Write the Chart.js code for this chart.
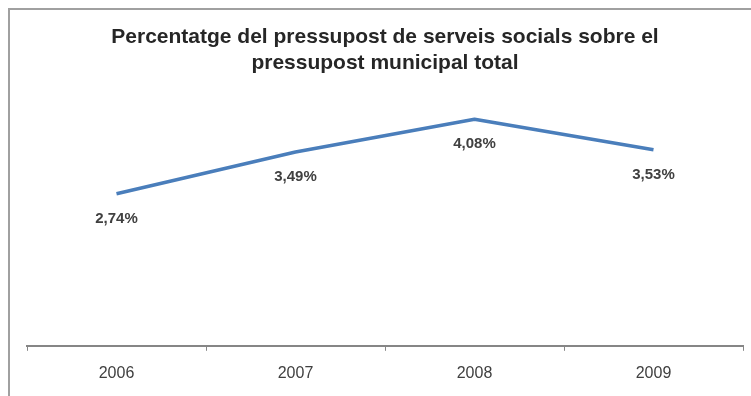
<!DOCTYPE html>
<html>
<head>
<meta charset="utf-8">
<script src="https://cdn.jsdelivr.net/npm/chart.js@4.4.0/dist/chart.umd.min.js"></script>
<style>
    body { margin: 0; background: #fff; }
    canvas { display: block; }
</style>
</head>
<body>
<canvas id="chart" width="751" height="396"></canvas>
<script>
const years = ['2006', '2007', '2008', '2009'];
const percentages = [2.74, 3.49, 4.08, 3.53];
const titleLines = ['Percentatge del pressupost de serveis socials sobre el', 'pressupost municipal total'];

function formatPct(v) {
    return v.toFixed(2).replace('.', ',') + '%';
}

// grey frame round the chart (only top and left edges show in the picture)
const framePlugin = {
    id: 'frame',
    beforeDraw(chart) {
        const ctx = chart.ctx;
        ctx.save();
        ctx.strokeStyle = '#a0a0a0';
        ctx.lineWidth = 2;
        ctx.strokeRect(9, 9, 800, 800);
        ctx.restore();
    }
};

// value labels under each point
const valueLabels = {
    id: 'valueLabels',
    afterDatasetsDraw(chart) {
        const ctx = chart.ctx;
        const meta = chart.getDatasetMeta(0);
        ctx.save();
        ctx.font = 'bold 15px "Liberation Sans", Arial, sans-serif';
        ctx.fillStyle = '#404040';
        ctx.textAlign = 'center';
        ctx.textBaseline = 'middle';
        meta.data.forEach((pt, i) => {
            ctx.fillText(formatPct(percentages[i]), pt.x, pt.y + 25);
        });
        ctx.restore();
    }
};

function displayLineChart($ctx) {
    new Chart($ctx, {
        type: 'line',
        data: {
            labels: years,
            datasets: [{
                label: 'pressupost',
                data: percentages,
                borderColor: '#4A7EBB',
                borderWidth: 3.5,
                borderJoinStyle: 'round',
                pointRadius: 0,
                tension: 0,
                fill: false
            }]
        },
        options: {
            responsive: false,
            animation: false,
            layout: {
                padding: { left: 27, right: 8, top: 0, bottom: 0 }
            },
            plugins: {
                legend: { display: false },
                tooltip: { enabled: false },
                title: {
                    display: true,
                    text: titleLines,
                    color: '#262626',
                    font: { family: '"Liberation Sans", Arial, sans-serif', size: 21, weight: 'bold', lineHeight: 26 / 21 },
                    padding: { top: 24, bottom: 20 }
                }
            },
            scales: {
                x: {
                    offset: true,
                    grid: {
                        offset: true,
                        drawOnChartArea: false,
                        drawTicks: true,
                        tickLength: 5,
                        color: '#868686',
                        lineWidth: 1
                    },
                    border: { color: '#868686', width: 2 },
                    ticks: {
                        color: '#404040',
                        padding: 13,
                        font: { family: '"Liberation Sans", Arial, sans-serif', size: 16 }
                    }
                },
                y: {
                    display: false,
                    min: 0,
                    max: 4.5
                }
            }
        },
        plugins: [framePlugin, valueLabels]
    });
}

document.addEventListener('DOMContentLoaded', function() {
    displayLineChart(document.getElementById('chart'));
}, false);
</script>
</body>
</html>
